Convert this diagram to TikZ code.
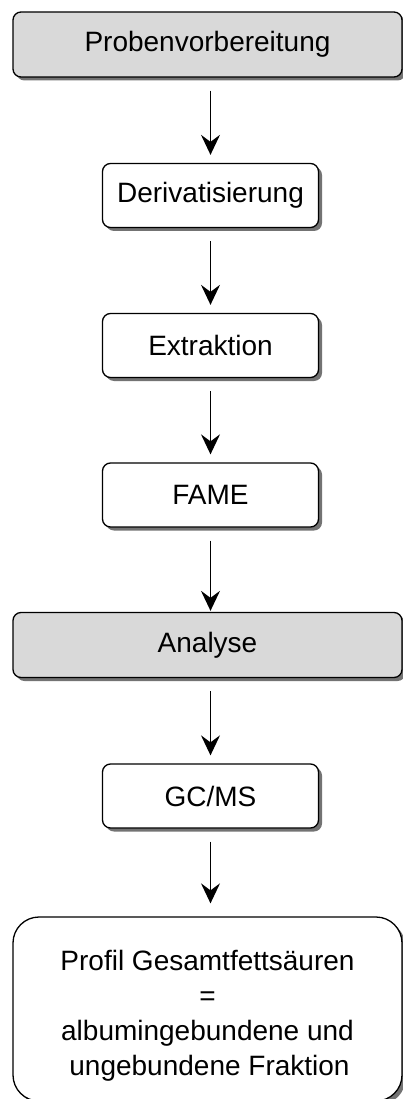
\documentclass[tikz,border=0pt]{standalone}
\usepackage{fontspec}
\setmainfont{Liberation Sans}
\usetikzlibrary{arrows.meta,shadows}
\begin{document}
\begin{tikzpicture}[x=1pt,y=1pt,
  base/.style={draw=black, line width=1.3pt, rounded corners=8pt, align=center,
    font=\fontsize{28}{35}\selectfont, inner sep=0pt,
    drop shadow={shadow xshift=3.5pt, shadow yshift=-3.5pt, fill=black!55, opacity=1}},
  greybox/.style={base, fill=black!15, minimum width=389pt, minimum height=65pt},
  whitebox/.style={base, fill=white, minimum width=216pt, minimum height=64pt},
  flow/.style={line width=1.4pt, -{Stealth[length=20pt,width=19pt,inset=7pt]}, shorten <=13pt, shorten >=8pt}]
\useasboundingbox (0,0) rectangle (403,-1099);
\clip (0,0) rectangle (403,-1099);
\node[greybox] (b1) at (207.5,-44.5) {Probenvorbereitung};
\node[whitebox] (b2) at (210.5,-195.5) {Derivatisierung};
\node[whitebox] (b3) at (210.5,-345.5) {Extraktion};
\node[whitebox] (b4) at (210.5,-495) {FAME};
\node[greybox] (b5) at (207.5,-645) {Analyse};
\node[whitebox] (b6) at (210.5,-796) {GC/MS};
\node[base, fill=white, rounded corners=26pt, minimum width=389pt, minimum height=184pt,
  text depth=0pt] (b7) at (207.5,-1009) {};
\node[font=\fontsize{28}{35}\selectfont, align=center, anchor=center] (t7) at (207.5,-1016)
  {Profil Gesamtfettsäuren\\=\\albumingebundene und\hspace*{8pt}\\\hspace*{4pt}ungebundene Fraktion};
\draw[flow] (b1.south -| b2.center) -- (b2.north);
\draw[flow] (b2.south) -- (b3.north);
\draw[flow] (b3.south) -- (b4.north);
\draw[flow, shorten >=1pt] (b4.south) -- (b5.north -| b4.center);
\draw[flow] (b5.south -| b6.center) -- (b6.north);
\draw[flow, shorten >=13pt] (b6.south) -- (b7.north -| b6.center);
\end{tikzpicture}
\end{document}
